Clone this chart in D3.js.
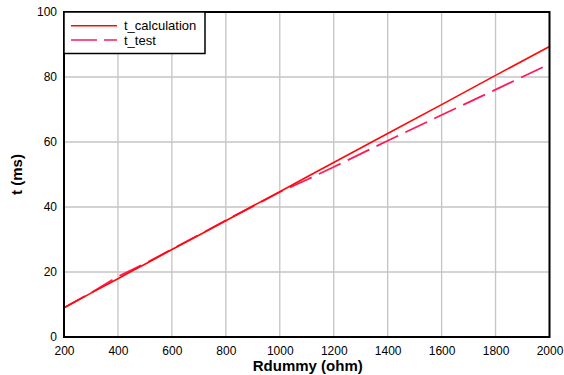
<!DOCTYPE html>
<html><head><meta charset="utf-8">
<script src="https://cdn.jsdelivr.net/npm/d3@7"></script>
<style>body{margin:0;background:#fff}svg{display:block}text{font-family:"Liberation Sans",Arial,sans-serif}</style>
</head><body>
<svg id="c" width="564" height="375"></svg>
<script>
const rdummy = [200,300,400,450,500,600,700,800,900,1000,1100,1200,1400,1600,1800,2000];
const tCalculation = [9.0,13.5,17.9,20.2,22.4,26.9,31.3,35.8,40.3,44.7,49.2,53.7,62.6,71.5,80.5,89.4];
const tTest = [9.0,13.6,18.6,20.6,22.6,27.0,31.4,35.9,40.2,44.6,48.4,52.3,60.4,68.3,76.1,84.0];
const xTicks = [200,400,600,800,1000,1200,1400,1600,1800,2000];
const yTicks = [0,20,40,60,80,100];
const seriesNames = ["t_calculation","t_test"];

const svg = d3.select("#c");
const L=64, R=549.5, T=12, B=337;
const x = d3.scaleLinear().domain([200,2000]).range([L,R]);
const y = d3.scaleLinear().domain([0,100]).range([B,T]);

// grid
svg.append("g").selectAll("line").data(xTicks).join("line")
  .attr("x1",d=>x(d)).attr("x2",d=>x(d)).attr("y1",T).attr("y2",B)
  .attr("stroke","#c4c4c4").attr("stroke-width",1.3);
svg.append("g").selectAll("line").data(yTicks).join("line")
  .attr("y1",d=>y(d)).attr("y2",d=>y(d)).attr("x1",L).attr("x2",R)
  .attr("stroke","#c4c4c4").attr("stroke-width",1.3);

// lines
const line = (vals)=>d3.line().x((d,i)=>x(rdummy[i])).y(d=>y(d))(vals);
svg.append("path").attr("d",line(tTest)).attr("fill","none")
  .attr("stroke","#ff1a5a").attr("stroke-width",1.8).attr("stroke-dasharray","24,8");
svg.append("path").attr("d",line(tCalculation)).attr("fill","none")
  .attr("stroke","#ff0a0a").attr("stroke-width",1.7);

// frame
svg.append("rect").attr("x",L).attr("y",T).attr("width",R-L).attr("height",B-T)
  .attr("fill","none").attr("stroke","#000").attr("stroke-width",2);

// axes
const xa = svg.append("g").attr("transform",`translate(0,${B})`)
  .call(d3.axisBottom(x).tickValues(xTicks).tickSize(0).tickPadding(9).tickFormat(d3.format("d")));
xa.select(".domain").remove();
xa.selectAll("text").attr("font-size",12).attr("fill","#000").attr("font-family","Liberation Sans, Arial, sans-serif");
const ya = svg.append("g").attr("transform",`translate(${L},0)`)
  .call(d3.axisLeft(y).tickValues(yTicks).tickSize(0).tickPadding(7));
ya.select(".domain").remove();
ya.selectAll("text").attr("font-size",12).attr("fill","#000").attr("font-family","Liberation Sans, Arial, sans-serif");

// titles
svg.append("text").attr("x",(L+R)/2+1).attr("y",371).attr("text-anchor","middle")
  .attr("font-size",15).attr("font-weight","bold").text("Rdummy (ohm)");
svg.append("text").attr("transform",`translate(22,${(T+B)/2}) rotate(-90)`).attr("text-anchor","middle")
  .attr("font-size",15).attr("font-weight","bold").text("t (ms)");

// legend
const lg = svg.append("g");
lg.append("rect").attr("x",L).attr("y",T).attr("width",141).attr("height",41.5)
  .attr("fill","#fff").attr("stroke","#000").attr("stroke-width",1.5);
const legColors=["#ff0a0a","#ff1a5a"], legDash=[null,"26,7"];
seriesNames.forEach((n,i)=>{
  const yy = 25.7 + i*14.3;
  lg.append("line").attr("x1",71).attr("x2",117).attr("y1",yy).attr("y2",yy)
    .attr("stroke",legColors[i]).attr("stroke-width",1.6).attr("stroke-dasharray",legDash[i]);
  lg.append("text").attr("x",124).attr("y",yy+4.5).attr("font-size",13).text(n);
});
</script>
</body></html>
